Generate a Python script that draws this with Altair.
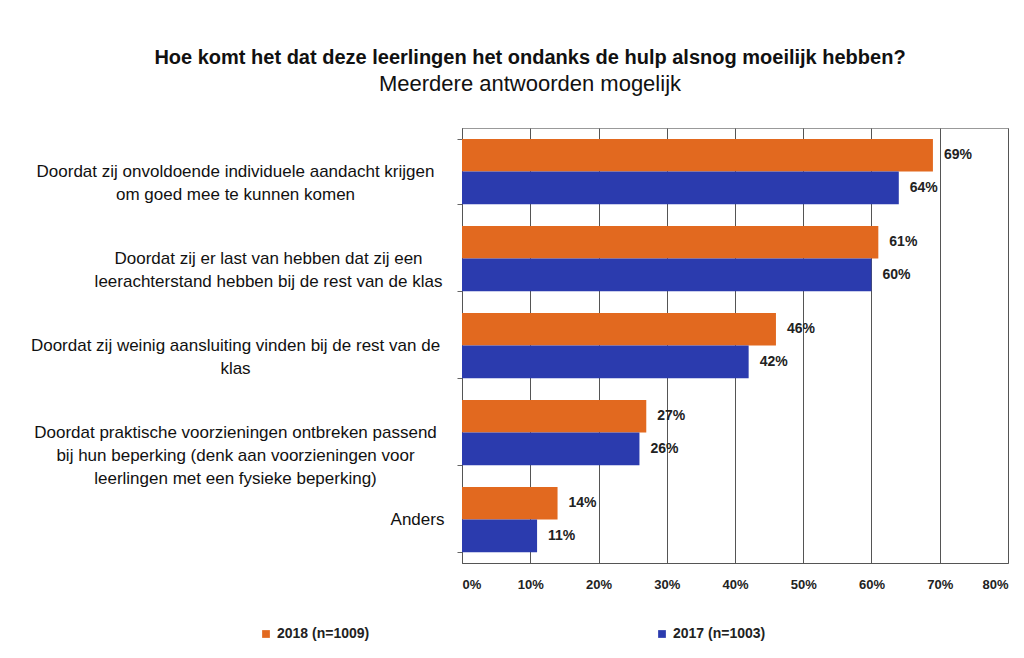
import altair as alt
import pandas as pd

categories = [
    "Doordat zij onvoldoende individuele aandacht krijgen|om goed mee te kunnen komen",
    "Doordat zij er last van hebben dat zij een|leerachterstand hebben bij de rest van de klas",
    "Doordat zij weinig aansluiting vinden bij de rest van de|klas",
    "Doordat praktische voorzieningen ontbreken passend|bij hun beperking (denk aan voorzieningen voor|leerlingen met een fysieke beperking)",
    "Anders",
]
series = ["2018 (n=1009)", "2017 (n=1003)"]
values_2018 = [69, 61, 46, 27, 14]
values_2017 = [64, 60, 42, 26, 11]
colors = ["#E2691F", "#2B3BAE"]

rows = []
for c, a, b in zip(categories, values_2018, values_2017):
    rows.append({"cat": c, "serie": series[0], "val": a / 100})
    rows.append({"cat": c, "serie": series[1], "val": b / 100})
df = pd.DataFrame(rows)

FONT = "Liberation Sans"

y_enc = alt.Y(
    "cat:N",
    sort=categories,
    title=None,
    scale=alt.Scale(paddingInner=0.25, paddingOuter=0.125),
    axis=alt.Axis(
        labelExpr="split(datum.label, '|')",
        labelAlign="center",
        labelBaseline="middle",
        labelFont=FONT,
        labelFontSize=17,
        labelColor="#111111",
        labelLimit=600,
        labelLineHeight=23,
        labelPadding={
            "condition": [
                {"test": f"datum.value === '{categories[4]}'", "value": 40},
                {"test": f"datum.value === '{categories[1]}'", "value": 189},
            ],
            "value": 222,
        },
        tickBand="extent",
        tickSize=5,
        tickColor="#666666",
        domainColor="#555555",
        grid=False,
    ),
)

x_enc = alt.X(
    "val:Q",
    title=None,
    scale=alt.Scale(domain=[0, 0.8], nice=False),
    axis=alt.Axis(
        format=".0%",
        values=[0, 0.1, 0.2, 0.3, 0.4, 0.5, 0.6, 0.7, 0.8],
        labelFont=FONT,
        labelFontSize=13,
        labelFontWeight="bold",
        labelColor="#222222",
        labelPadding=15,
        ticks=False,
        grid=True,
        gridColor="#555555",
        gridWidth=1,
        domainColor="#555555",
    ),
)

base = alt.Chart(df).encode(
    y=y_enc,
    yOffset=alt.YOffset("serie:N", sort=series),
)

bars = base.mark_bar().encode(
    x=x_enc,
    color=alt.Color(
        "serie:N",
        sort=series,
        scale=alt.Scale(domain=series, range=colors),
        legend=alt.Legend(
            title=None,
            orient="none",
            legendX=-203,
            legendY=499,
            direction="horizontal",
            symbolType="square",
            symbolSize=60,
            labelFont=FONT,
            labelFontSize=14,
            labelFontWeight="bold",
            labelColor="#222222",
            columnPadding=285,
            labelLimit=300,
        ),
    ),
)

labels = base.mark_text(
    align="left", baseline="middle", dx=11, font=FONT, fontSize=14,
    fontWeight="bold", color="#222222",
).encode(
    x="val:Q",
    text=alt.Text("val:Q", format=".0%"),
)

chart = (
    alt.layer(bars, labels)
    .properties(
        width=546,
        height=435,
        autosize=alt.AutoSizeParams(type="none"),
        padding={"left": 454, "top": 120, "right": 8, "bottom": 80},
        title=alt.TitleParams(
            text="Hoe komt het dat deze leerlingen het ondanks de hulp alsnog moeilijk hebben?",
            subtitle="Meerdere antwoorden mogelijk",
            anchor="middle",
            frame="group",
            dx=-205,
            offset=24,
            font=FONT,
            fontSize=20,
            fontWeight="bold",
            color="#111111",
            subtitleFont=FONT,
            subtitleFontSize=22,
            subtitleColor="#111111",
            subtitlePadding=6,
        ),
    )
    .configure_view(stroke="#999999", strokeWidth=1)
)

chart.save("out.html", embed_options={"renderer": "svg", "actions": False})
